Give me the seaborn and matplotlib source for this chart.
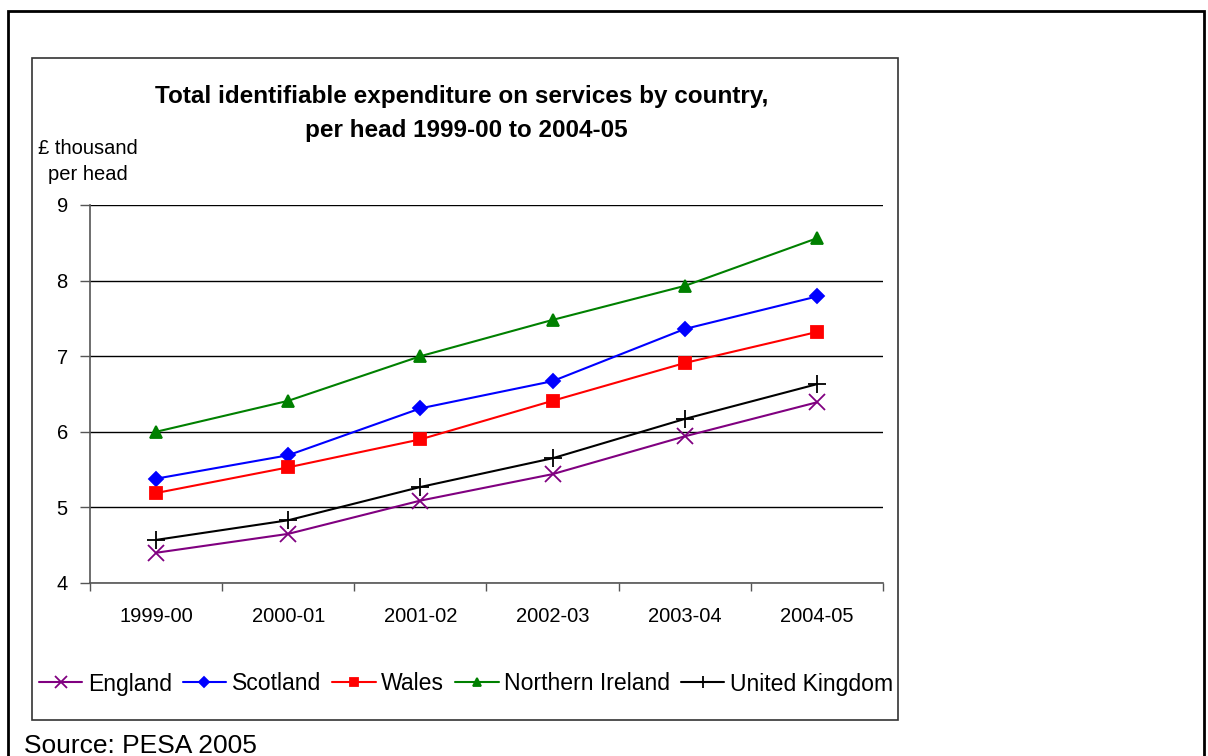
import pandas as pd
import seaborn as sns
import matplotlib.pyplot as plt
from matplotlib.patches import Rectangle

# Values (£ thousand per head)
years = ["1999-00", "2000-01", "2001-02", "2002-03", "2003-04", "2004-05"]
england = [4.40, 4.65, 5.09, 5.44, 5.94, 6.39]
scotland = [5.38, 5.69, 6.31, 6.67, 7.36, 7.79]
wales = [5.19, 5.53, 5.90, 6.41, 6.91, 7.32]
northern_ireland = [6.00, 6.41, 7.00, 7.48, 7.93, 8.56]
united_kingdom = [4.57, 4.83, 5.27, 5.65, 6.17, 6.63]

countries = ["England", "Scotland", "Wales", "Northern Ireland", "United Kingdom"]
series = [england, scotland, wales, northern_ireland, united_kingdom]

colors = ["#800080", "#0000FF", "#FF0000", "#008000", "#000000"]
marks = ["x", "D", "s", "^", "+"]
msizes = [12, 7, 8, 9, 13]

sns.set_style("white")
plt.rcParams["font.family"] = ["Liberation Sans", "DejaVu Sans"]
plt.rcParams["text.color"] = "black"
plt.rcParams["xtick.color"] = "black"
plt.rcParams["ytick.color"] = "black"

fig = plt.figure(figsize=(12.08, 7.56), dpi=100)
ax = fig.add_axes([90 / 1208, 1 - 583 / 756, (883 - 90) / 1208, (583 - 205) / 756])

# one lineplot call per country (filled and line markers can't be mixed in one call)
for name, vals, c, m, ms in zip(countries, series, colors, marks, msizes):
    d = pd.DataFrame({"Year": years, "Value": vals})
    sns.lineplot(data=d, x="Year", y="Value", color=c, marker=m, markersize=ms,
                 markeredgewidth=1.3, markeredgecolor=c, linewidth=1.5,
                 label=name, ax=ax)

ax.set_xlim(-0.5, 5.5)
ax.set_ylim(4, 9)
ax.set_yticks([4, 5, 6, 7, 8, 9])
ax.set_xticks(range(6))
ax.set_xticklabels(years)
ax.set_xticks([i - 0.5 for i in range(7)], minor=True)
ax.tick_params(axis="x", which="major", length=0, labelsize=14.5, labelcolor="black", pad=17)
ax.tick_params(axis="x", which="minor", length=6, width=1, color="#555555", direction="out",
               bottom=True)
ax.tick_params(axis="y", length=7, width=1, color="#555555", direction="out",
               labelsize=14.5, labelcolor="black", pad=9, left=True)
ax.set_xlabel("")
ax.set_ylabel("")
ax.grid(axis="y", color="black", linewidth=1)
ax.set_axisbelow(True)
for side in ["top", "right"]:
    ax.spines[side].set_visible(False)
for side in ["left", "bottom"]:
    ax.spines[side].set_color("#555555")
    ax.spines[side].set_linewidth(1.2)

handles, labels = ax.get_legend_handles_labels()
ax.legend_.remove()
fig.legend(handles, labels, loc="center", bbox_to_anchor=(466 / 1208, 1 - 684 / 756),
           ncol=5, frameon=False, fontsize=16.6, handlelength=1.9, handletextpad=0.25,
           columnspacing=0.45, markerscale=0.7, labelcolor="black")

# Titles and notes
fig.text(462 / 1208, 1 - 96 / 756, "Total identifiable expenditure on services by country,",
         ha="center", va="center", fontsize=17.5, fontweight="bold")
fig.text(466 / 1208, 1 - 130 / 756, "per head 1999-00 to 2004-05",
         ha="center", va="center", fontsize=17.5, fontweight="bold")
fig.text(88 / 1208, 1 - 149 / 756, "£ thousand", ha="center", va="center", fontsize=14.5)
fig.text(88 / 1208, 1 - 174 / 756, "per head", ha="center", va="center", fontsize=14.5)
fig.text(24 / 1208, 1 - 746 / 756, "Source: PESA 2005", ha="left", va="center", fontsize=19)

# Frames
fig.patches.append(Rectangle((32 / 1208, 1 - 720 / 756), (898 - 32) / 1208, (720 - 58) / 756,
                             transform=fig.transFigure, fill=False, edgecolor="#333333",
                             linewidth=1.2))
fig.patches.append(Rectangle((8 / 1208, -0.05), (1204 - 8) / 1208, 1.05 - 11 / 756,
                             transform=fig.transFigure, fill=False, edgecolor="black",
                             linewidth=2))

fig.savefig("out.png", dpi=100)
